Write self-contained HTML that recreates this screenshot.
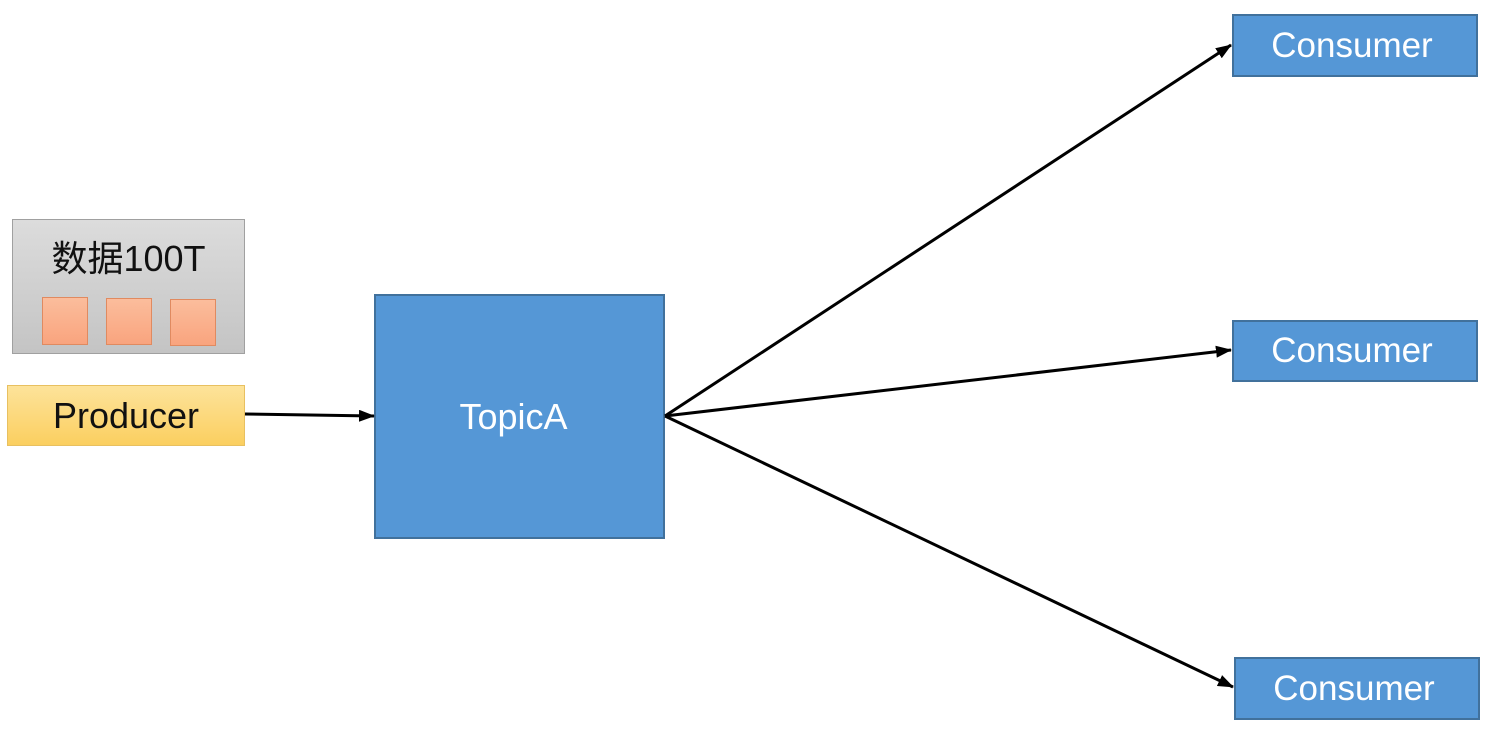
<!DOCTYPE html>
<html><head><meta charset="utf-8"><style>
body{margin:0;width:1498px;height:733px;background:#fff;position:relative;overflow:hidden;font-family:"Liberation Sans","Noto Sans CJK SC",sans-serif}
.b{position:absolute;box-sizing:border-box;display:flex;align-items:center;justify-content:center}
.c{background:#5597d6;border:2px solid #41719c;color:#fff;font-size:35px}
.s{position:absolute;box-sizing:border-box;border:1px solid #e08a60;background:linear-gradient(#fbbd9c,#f9a47e)}
</style></head><body>
<div class="b" style="left:12px;top:219px;width:233px;height:135px;border:1px solid #a0a0a0;background:linear-gradient(#dcdcdc,#c4c4c4);align-items:flex-start;padding-top:10px;font-size:36px;color:#111">数据100T</div>
<div class="s" style="left:42px;top:297px;width:46px;height:48px"></div>
<div class="s" style="left:106px;top:298px;width:46px;height:47px"></div>
<div class="s" style="left:170px;top:299px;width:46px;height:47px"></div>
<div class="b" style="left:7px;top:385px;width:238px;height:61px;border:1px solid #e8c060;background:linear-gradient(#fde39a,#fbcf60);font-size:36px;color:#111">Producer</div>
<div class="b c" style="left:374px;top:294px;width:291px;height:245px;font-size:36px;padding-right:12px">TopicA</div>
<div class="b c" style="left:1232px;top:14px;width:246px;height:63px;padding-right:6px">Consumer</div>
<div class="b c" style="left:1232px;top:320px;width:246px;height:62px;padding-right:6px">Consumer</div>
<div class="b c" style="left:1234px;top:657px;width:246px;height:63px;padding-right:6px">Consumer</div>
<svg width="1498" height="733" style="position:absolute;left:0;top:0">
<defs><marker id="a" markerWidth="16" markerHeight="12" refX="15" refY="6" orient="auto" markerUnits="userSpaceOnUse" viewBox="0 0 16 12"><path d="M0,0L16,6L0,12z" fill="#000"/></marker></defs>
<g stroke="#000" stroke-width="3" fill="none">
<line x1="245" y1="414" x2="374" y2="416" marker-end="url(#a)"/>
<line x1="665" y1="416" x2="1231" y2="45" marker-end="url(#a)"/>
<line x1="665" y1="416" x2="1231" y2="350" marker-end="url(#a)"/>
<line x1="665" y1="416" x2="1233" y2="687" marker-end="url(#a)"/>
</g></svg>
</body></html>
